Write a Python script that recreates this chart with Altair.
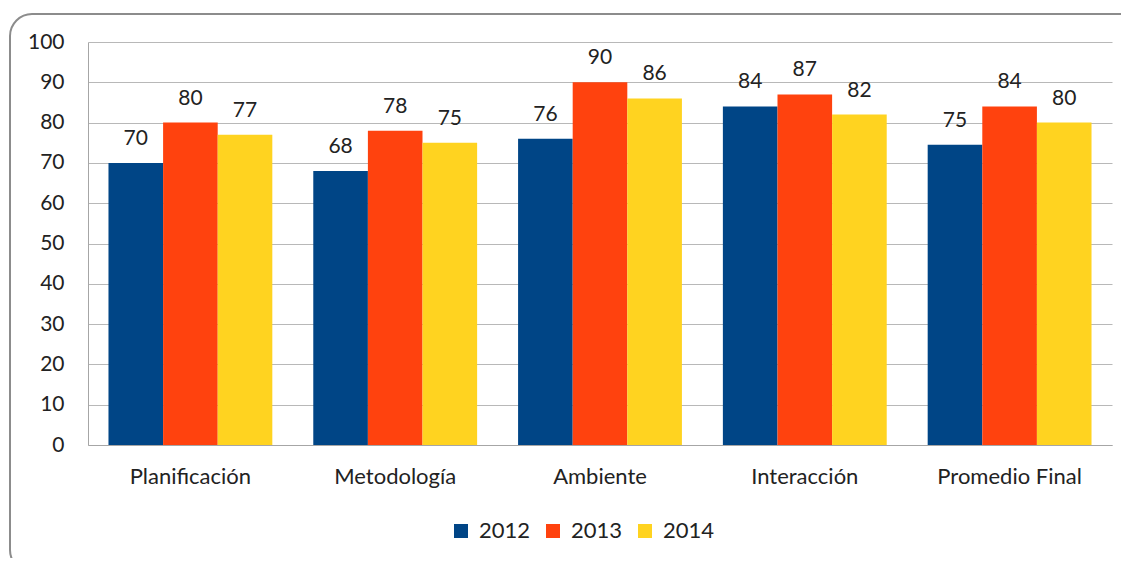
import altair as alt
import pandas as pd

categories = ["Planificación", "Metodología", "Ambiente", "Interacción", "Promedio Final"]
years = ["2012", "2013", "2014"]
v2012 = [70, 68, 76, 84, 74.5]
v2013 = [80, 78, 90, 87, 84]
v2014 = [77, 75, 86, 82, 80]
colors = ["#004586", "#ff420e", "#ffd320"]

rows = []
for i, c in enumerate(categories):
    for y, vals in zip(years, [v2012, v2013, v2014]):
        rows.append({"cat": c, "year": y, "val": vals[i]})
df = pd.DataFrame(rows)

FONT = "Lato"
W, H = 1024, 403

base = alt.Chart(df).encode(
    x=alt.X("cat:N", sort=categories, title=None,
            scale=alt.Scale(paddingInner=0.2, paddingOuter=0.1),
            axis=alt.Axis(labelAngle=0, ticks=False, labelPadding=21, labelFontSize=22,
                          labelFont=FONT, labelColor="#222", domainColor="#a6a6a6", grid=False)),
    xOffset=alt.XOffset("year:N", sort=years),
)

bars = base.mark_bar().encode(
    y=alt.Y("val:Q", title=None, scale=alt.Scale(domain=[0, 100]),
            axis=alt.Axis(values=list(range(0, 101, 10)), ticks=False, labelPadding=24,
                          labelFontSize=21, labelFont=FONT, labelColor="#222",
                          gridColor="#b8b8b8", domainColor="#a6a6a6")),
    color=alt.Color("year:N", sort=years, scale=alt.Scale(domain=years, range=colors),
                    legend=alt.Legend(title=None, orient="none", legendX=362, legendY=478,
                                      direction="horizontal", symbolType="square",
                                      symbolSize=196, symbolStrokeWidth=0,
                                      labelFontSize=22, labelFont=FONT, labelColor="#222",
                                      columnPadding=11, labelOffset=7)),
)

labels = base.mark_text(baseline="bottom", dy=-14, fontSize=21, font=FONT, color="#222").encode(
    y=alt.Y("val:Q"),
    text=alt.Text("val:Q", format=".0f"),
)

border = alt.Chart(pd.DataFrame({"a": [0]})).mark_rect(
    fill=None, stroke="#8c8c8c", strokeWidth=2, cornerRadius=22
).encode(x=alt.value(-78), x2=alt.value(1060), y=alt.value(-28), y2=alt.value(530))

chart = alt.layer(border, bars, labels).properties(
    width=W, height=H,
    autosize=alt.AutoSizeParams(type="none"),
    padding={"left": 80, "top": 34, "right": 9, "bottom": 113},
).configure_view(stroke=None)

chart.save("out.html", embed_options={"renderer": "svg", "actions": False})
